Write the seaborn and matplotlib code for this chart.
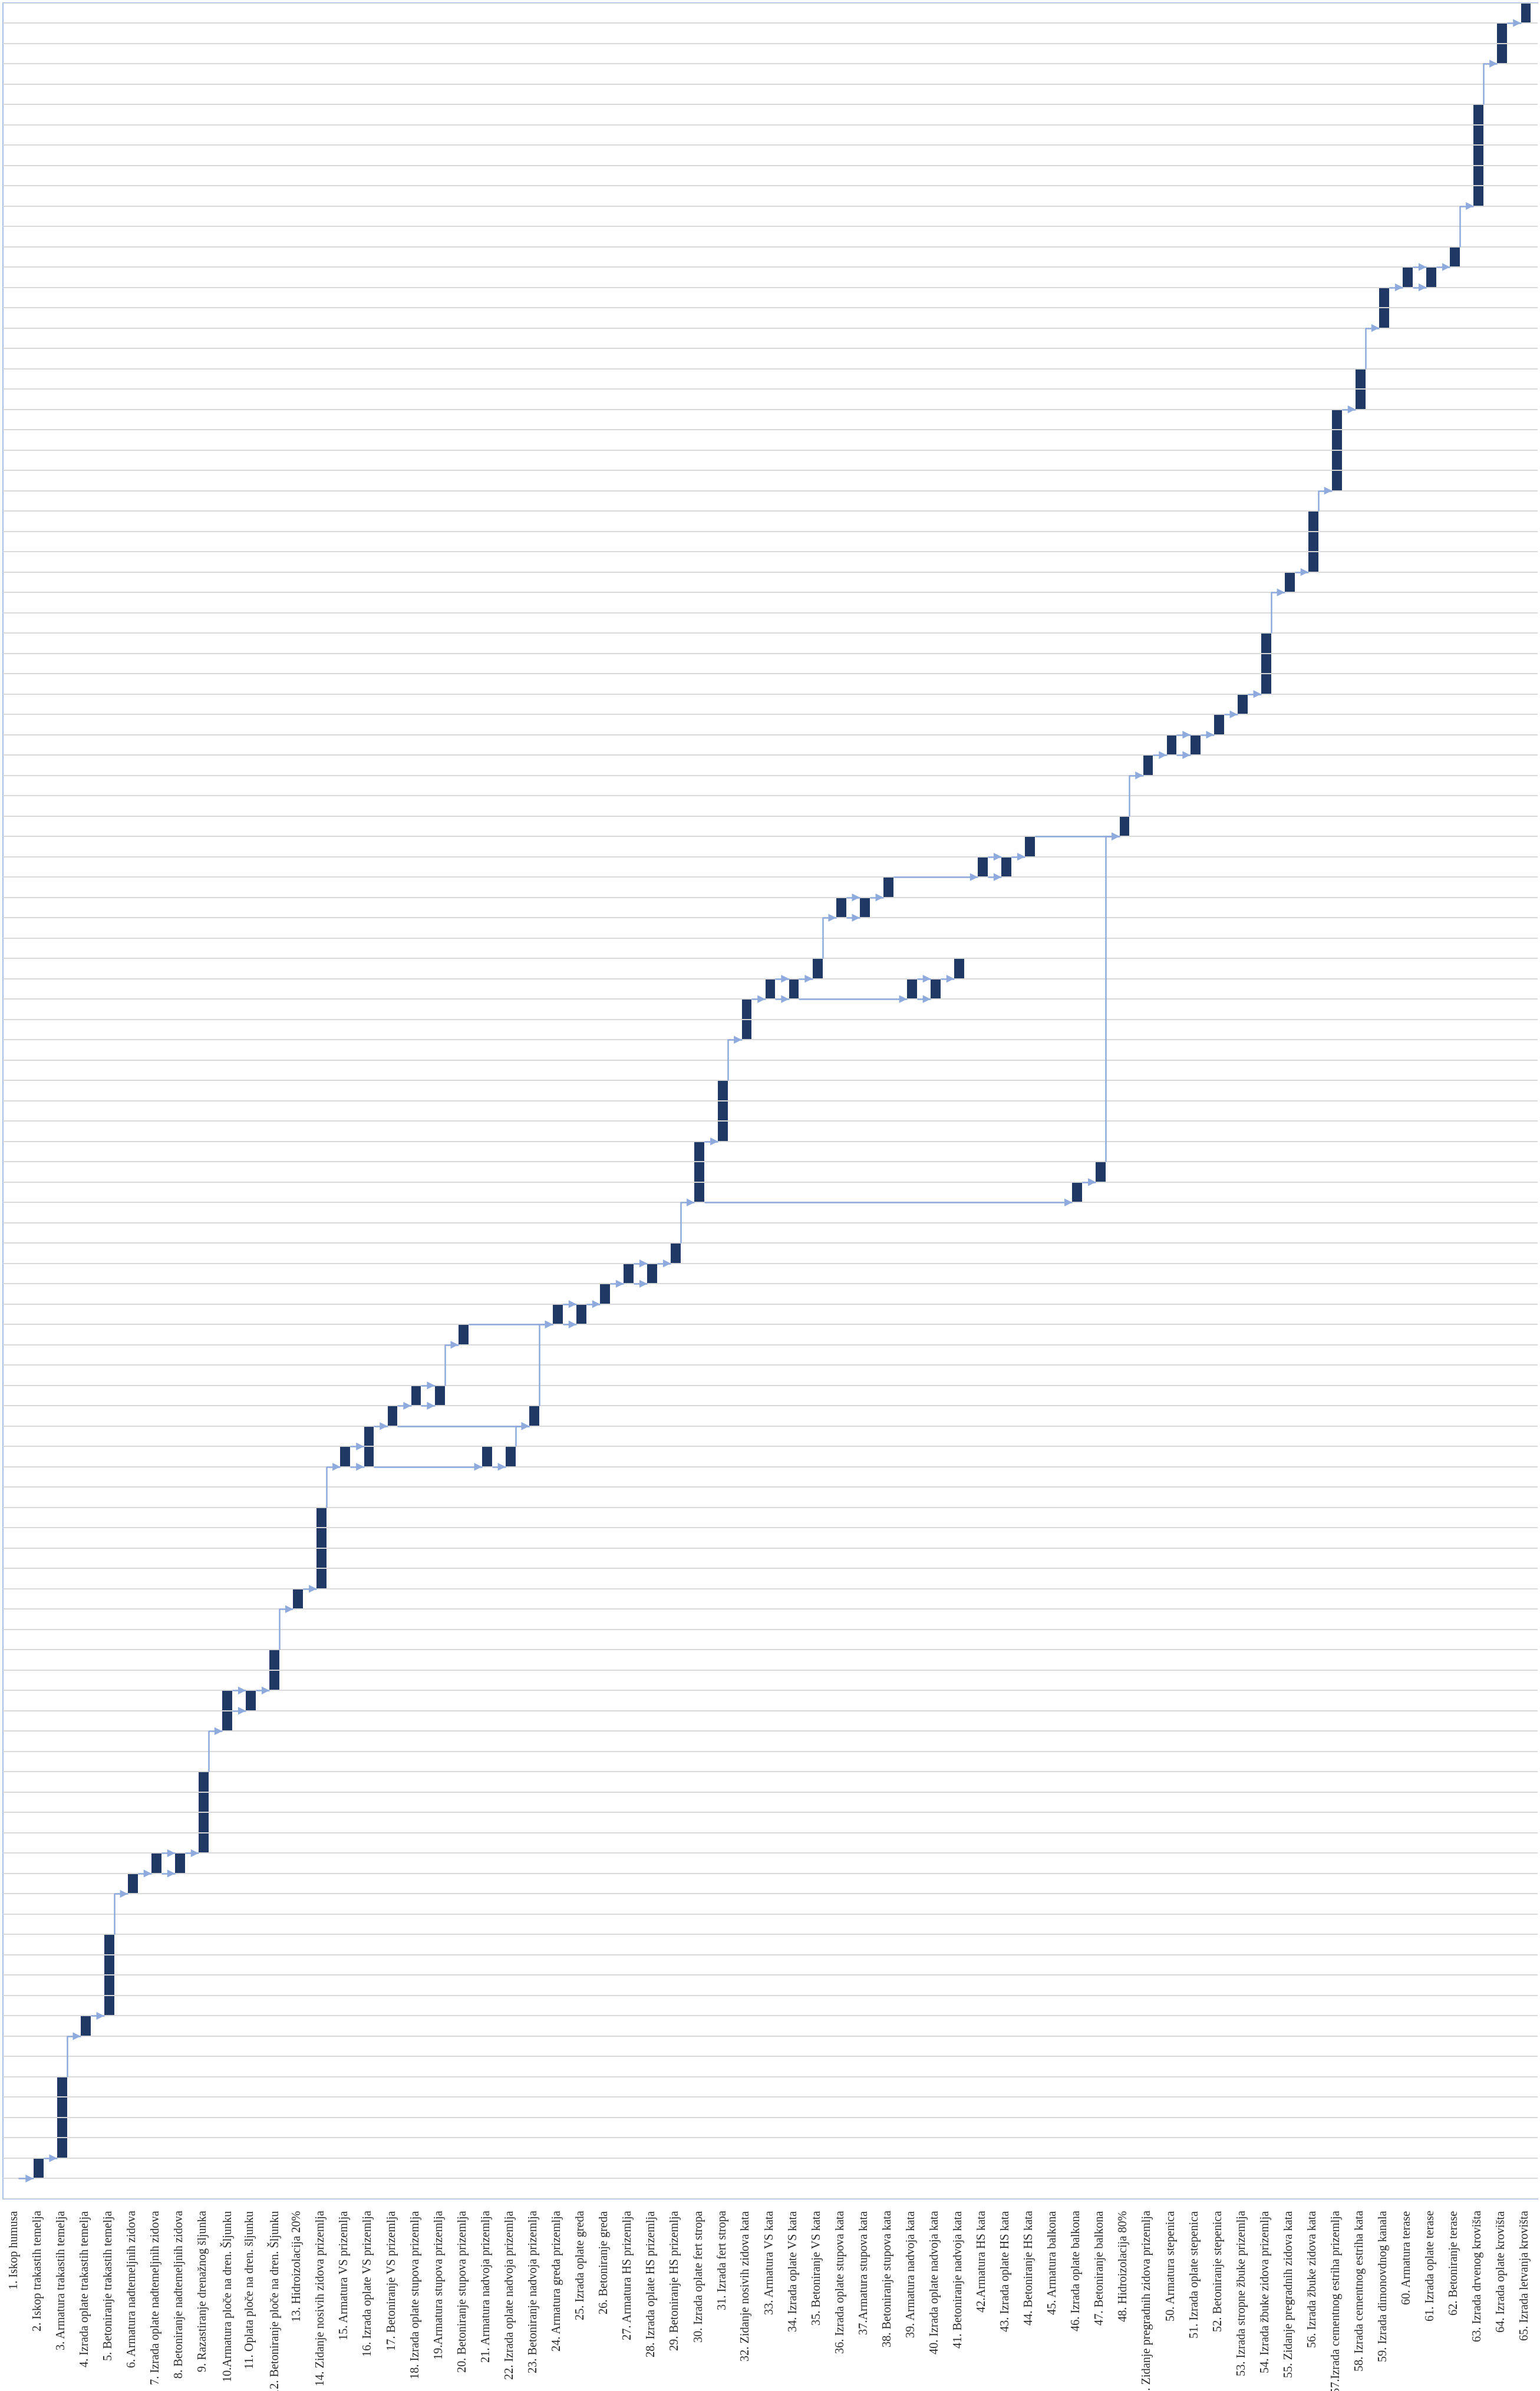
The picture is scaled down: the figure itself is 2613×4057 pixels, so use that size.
import numpy as np
import pandas as pd
import seaborn as sns
import matplotlib.pyplot as plt

# aktivnosti (kategorije)
tasks = [
    "1. Iskop humusa", "2. Iskop trakastih temelja", "3. Armatura trakastih temelja",
    "4. Izrada oplate trakastih temelja", "5. Betoniranje trakastih temelja",
    "6. Armatura nadtemeljnih zidova", "7. Izrada oplate nadtemeljnih zidova",
    "8. Betoniranje nadtemeljnih zidova", "9. Razastiranje drenažnog šljunka",
    "10.Armatura ploče na dren. Šljunku", "11. Oplata ploče na dren. šljunku",
    "12. Betoniranje ploče na dren. Šljunku", "13. Hidroizolacija 20%",
    "14. Zidanje nosivih zidova prizemlja", "15. Armatura VS prizemlja",
    "16. Izrada oplate VS prizemlja", "17. Betoniranje VS prizemlja",
    "18. Izrada oplate stupova prizemlja", "19.Armatura stupova prizemlja",
    "20. Betoniranje stupova prizemlja", "21. Armatura nadvoja prizemlja",
    "22. Izrada oplate nadvoja prizemlja", "23. Betoniranje nadvoja prizemlja",
    "24. Armatura greda prizemlja", "25. Izrada oplate greda", "26. Betoniranje greda",
    "27. Armatura HS prizemlja", "28. Izrada oplate HS prizemlja",
    "29. Betoniranje HS prizemlja", "30. Izrada oplate fert stropa",
    "31. Izrada fert stropa", "32. Zidanje nosivih zidova kata", "33. Armatura VS kata",
    "34. Izrada oplate VS kata", "35. Betoniranje VS kata",
    "36. Izrada oplate stupova kata", "37.Armatura stupova kata",
    "38. Betoniranje stupova kata", "39. Armatura nadvoja kata",
    "40. Izrada oplate nadvoja kata", "41. Betoniranje nadvoja kata",
    "42.Armatura HS kata", "43. Izrada oplate HS kata", "44. Betoniranje HS kata",
    "45. Armatura balkona", "46. Izrada oplate balkona", "47. Betoniranje balkona",
    "48. Hidroizolacija 80%", "49. Zidanje pregradnih zidova prizemlja",
    "50. Armatura stepenica", "51. Izrada oplate stepenica", "52. Betoniranje stepenica",
    "53. Izrada stropne žbuke prizemlja", "54. Izrada žbuke zidova prizemlja",
    "55. Zidanje pregradnih zidova kata", "56. Izrada žbuke zidova kata",
    "57.Izrada cementnog estriha prizemlja", "58. Izrada cementnog estriha kata",
    "59. Izrada dimonovdnog kanala", "60. Armatura terase", "61. Izrada oplate terase",
    "62. Betoniranje terase", "63. Izrada drvenog krovišta",
    "64. Izrada oplate krovišta", "65. Izrada letvanja krovišta",
]

# pocetak (dan) i trajanje (dani)
start = [1, 1, 2, 8, 9, 15, 16, 16, 17, 23,
         24, 25, 29, 30, 36, 36, 38, 39, 39, 42,
         36, 36, 38, 43, 43, 44, 45, 45, 46, 49,
         52, 57, 59, 59, 60, 63, 63, 64, 59, 59,
         60, 65, 65, 66, 67, 49, 50, 67, 70, 71,
         71, 72, 73, 74, 79, 80, 84, 88, 92, 94,
         94, 95, 98, 105, 107]
duration = [0, 1, 4, 1, 4, 1, 1, 1, 4, 2,
            1, 2, 1, 4, 1, 2, 1, 1, 1, 1,
            1, 1, 1, 1, 1, 1, 1, 1, 1, 3,
            3, 2, 1, 1, 1, 1, 1, 1, 1, 1,
            1, 1, 1, 1, 0, 1, 1, 1, 1, 1,
            1, 1, 1, 3, 1, 3, 4, 2, 2, 1,
            1, 1, 5, 2, 1]

# veze: (od aktivnosti, dan, do aktivnosti, dan)
links = [
    (1, 1, 2, 1), (2, 2, 3, 2), (3, 6, 4, 8), (4, 9, 5, 9), (5, 13, 6, 15),
    (6, 16, 7, 16), (7, 16, 8, 16), (7, 17, 8, 17), (8, 17, 9, 17), (9, 21, 10, 23),
    (10, 24, 11, 24), (10, 25, 11, 25), (11, 25, 12, 25), (12, 27, 13, 29),
    (13, 30, 14, 30), (14, 34, 15, 36), (15, 36, 16, 36), (15, 37, 16, 37),
    (16, 36, 21, 36), (21, 36, 22, 36), (16, 38, 17, 38), (17, 39, 18, 39),
    (18, 39, 19, 39), (18, 40, 19, 40), (19, 40, 20, 42), (17, 38, 23, 38),
    (22, 37, 23, 38), (20, 43, 24, 43), (23, 39, 24, 43), (24, 43, 25, 43),
    (24, 44, 25, 44), (25, 44, 26, 44), (26, 45, 27, 45), (27, 45, 28, 45),
    (27, 46, 28, 46), (28, 46, 29, 46), (29, 47, 30, 49), (30, 49, 46, 49),
    (30, 52, 31, 52), (31, 55, 32, 57), (32, 59, 33, 59), (33, 59, 34, 59),
    (33, 60, 34, 60), (34, 59, 39, 59), (34, 60, 35, 60), (35, 61, 36, 63),
    (36, 63, 37, 63), (36, 64, 37, 64), (37, 64, 38, 64), (38, 65, 42, 65),
    (39, 59, 40, 59), (39, 60, 40, 60), (40, 60, 41, 60), (42, 65, 43, 65),
    (42, 66, 43, 66), (43, 66, 44, 66), (44, 67, 48, 67), (46, 50, 47, 50),
    (47, 51, 48, 67), (48, 68, 49, 70), (49, 71, 50, 71), (50, 71, 51, 71),
    (50, 72, 51, 72), (51, 72, 52, 72), (52, 73, 53, 73), (53, 74, 54, 74),
    (54, 77, 55, 79), (55, 80, 56, 80), (56, 83, 57, 84), (57, 88, 58, 88),
    (58, 90, 59, 92), (59, 94, 60, 94), (60, 94, 61, 94), (60, 95, 61, 95),
    (61, 95, 62, 95), (62, 96, 63, 98), (63, 103, 64, 105), (64, 107, 65, 107),
]

sns.set_style("white")
plt.rcParams['font.family'] = ['Liberation Serif', 'DejaVu Serif']

df = pd.DataFrame({'task': tasks, 'start': start, 'duration': duration})

W, H = 2613, 4057
fig = plt.figure(figsize=(W / 100, H / 100), dpi=100)
ax = fig.add_axes([5 / W, 1 - 3731 / H, 2604 / W, (3731 - 4.5) / H])

bar_w = 0.42
sns.barplot(data=df, x='task', y='duration', bottom=df['start'].values,
            color='#203864', saturation=1, width=bar_w, errorbar=None,
            linewidth=0, ax=ax, zorder=2)

ax.set_xlim(-0.5, len(tasks) - 0.5)
ax.set_ylim(0, 108)
ax.set_yticks(np.arange(0, 109, 1))
ax.yaxis.grid(True, color='#D9D9D9', lw=1.4)
ax.xaxis.grid(False)
ax.set_axisbelow(False)
ax.tick_params(axis='y', length=0, labelleft=False)
ax.set_xticks(range(len(tasks)))
ax.set_xticklabels(tasks, rotation=90, fontsize=14.6, va='top')
ax.tick_params(axis='x', length=0, pad=14)
ax.set_xlabel('')
ax.set_ylabel('')

for side in ['left', 'top', 'bottom']:
    ax.spines[side].set_color('#A9BFE3')
    ax.spines[side].set_linewidth(1.5)
ax.spines['right'].set_visible(False)

# strelice veza
link_color = '#8FAADC'
for a, ta, b, tb in links:
    x0 = a - 1 + (bar_w / 2 if duration[a - 1] > 0 else 0.15)
    x1 = b - 1 - bar_w / 2
    ax.plot([x0, x0, x1], [ta, tb, tb], color=link_color, lw=1.8, zorder=3,
            solid_capstyle='butt')
    ax.annotate('', xy=(x1, tb), xytext=(x1 - 0.4, tb),
                arrowprops=dict(arrowstyle='-|>,head_length=0.6,head_width=0.3',
                                mutation_scale=16, color=link_color, lw=0,
                                shrinkA=0, shrinkB=0),
                zorder=4)

plt.savefig('out.png', dpi=100)
